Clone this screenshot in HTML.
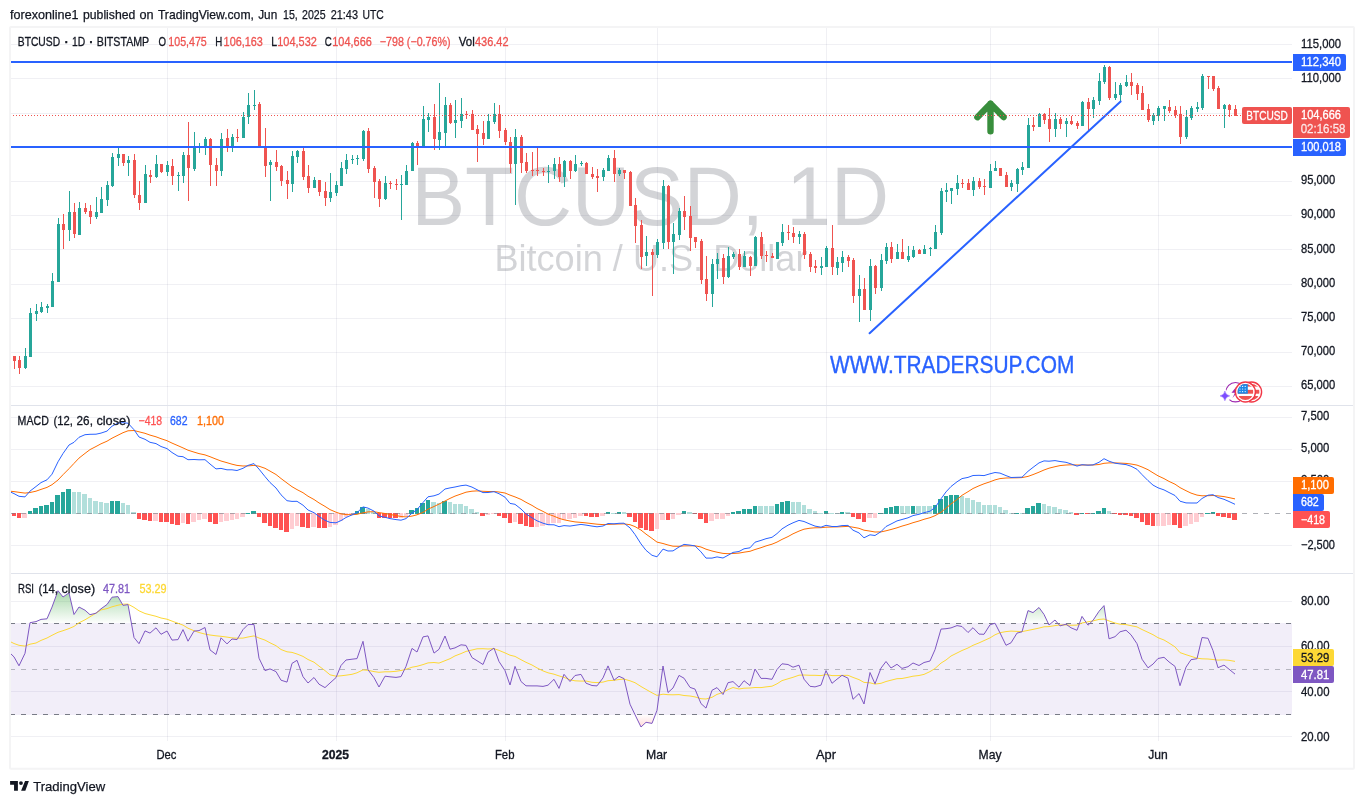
<!DOCTYPE html>
<html lang="en"><head><meta charset="utf-8"><title>BTCUSD 1D chart by forexonline1 - TradingView</title>
<style>
html,body{margin:0;padding:0;background:#fff;}
body{width:1364px;height:804px;overflow:hidden;position:relative;font-family:"Liberation Sans", sans-serif;}
svg{position:absolute;left:0;top:0;display:block}
text{font-family:"Liberation Sans", sans-serif;white-space:pre}
.ce{shape-rendering:crispEdges}
</style></head><body>
<svg width="1364" height="804" viewBox="0 0 1364 804">
<defs>
<clipPath id="plot"><rect x="11" y="28" width="1281" height="713"/></clipPath>
<clipPath id="pmain"><rect x="10" y="28" width="1282" height="377"/></clipPath>
<clipPath id="pmacd"><rect x="10" y="406" width="1282" height="167"/></clipPath>
<clipPath id="prsi"><rect x="10" y="574" width="1282" height="167"/></clipPath>
<linearGradient id="gup" gradientUnits="userSpaceOnUse" x1="0" y1="556.1" x2="0" y2="623.9"><stop offset="0" stop-color="#4caf50" stop-opacity="1"/><stop offset="1" stop-color="#4caf50" stop-opacity="0"/></linearGradient>
<linearGradient id="gdn" gradientUnits="userSpaceOnUse" x1="0" y1="714.5" x2="0" y2="771"><stop offset="0" stop-color="#ff5252" stop-opacity="0"/><stop offset="1" stop-color="#ff5252" stop-opacity="1"/></linearGradient>
<clipPath id="above70"><rect x="11" y="574" width="1281" height="49.5"/></clipPath>
<clipPath id="below30"><rect x="11" y="714.5" width="1281" height="27"/></clipPath>
<clipPath id="flag"><circle cx="0" cy="0" r="8"/></clipPath>
</defs>

<text y="18.9" font-size="12.4" fill="#131722" stroke="#131722" stroke-width="0.25"><tspan x="10.0" textLength="68.6" lengthAdjust="spacingAndGlyphs">forexonline1</tspan> <tspan x="83.0" textLength="52.3" lengthAdjust="spacingAndGlyphs">published</tspan> <tspan x="139.5" textLength="14.1" lengthAdjust="spacingAndGlyphs">on</tspan> <tspan x="157.9" textLength="96" lengthAdjust="spacingAndGlyphs">TradingView.com,</tspan> <tspan x="258.2" textLength="19" lengthAdjust="spacingAndGlyphs">Jun</tspan> <tspan x="283" textLength="14.8" lengthAdjust="spacingAndGlyphs">15,</tspan> <tspan x="302.1" textLength="23.5" lengthAdjust="spacingAndGlyphs">2025</tspan> <tspan x="330.7" textLength="27.3" lengthAdjust="spacingAndGlyphs">21:43</tspan> <tspan x="362.4" textLength="21.3" lengthAdjust="spacingAndGlyphs">UTC</tspan></text>
<g class="ce">
<rect x="167" y="28" width="1" height="713" fill="rgba(50,55,110,0.075)"/>
<rect x="336" y="28" width="1" height="713" fill="rgba(50,55,110,0.075)"/>
<rect x="505" y="28" width="1" height="713" fill="rgba(50,55,110,0.075)"/>
<rect x="657" y="28" width="1" height="713" fill="rgba(50,55,110,0.075)"/>
<rect x="826" y="28" width="1" height="713" fill="rgba(50,55,110,0.075)"/>
<rect x="990" y="28" width="1" height="713" fill="rgba(50,55,110,0.075)"/>
<rect x="1158" y="28" width="1" height="713" fill="rgba(50,55,110,0.075)"/>
<rect x="11" y="44" width="1281" height="1" fill="rgba(50,55,110,0.075)"/>
<rect x="11" y="78" width="1281" height="1" fill="rgba(50,55,110,0.075)"/>
<rect x="11" y="113" width="1281" height="1" fill="rgba(50,55,110,0.075)"/>
<rect x="11" y="147" width="1281" height="1" fill="rgba(50,55,110,0.075)"/>
<rect x="11" y="181" width="1281" height="1" fill="rgba(50,55,110,0.075)"/>
<rect x="11" y="215" width="1281" height="1" fill="rgba(50,55,110,0.075)"/>
<rect x="11" y="249" width="1281" height="1" fill="rgba(50,55,110,0.075)"/>
<rect x="11" y="284" width="1281" height="1" fill="rgba(50,55,110,0.075)"/>
<rect x="11" y="318" width="1281" height="1" fill="rgba(50,55,110,0.075)"/>
<rect x="11" y="352" width="1281" height="1" fill="rgba(50,55,110,0.075)"/>
<rect x="11" y="386" width="1281" height="1" fill="rgba(50,55,110,0.075)"/>
<rect x="11" y="417" width="1281" height="1" fill="rgba(50,55,110,0.075)"/>
<rect x="11" y="449" width="1281" height="1" fill="rgba(50,55,110,0.075)"/>
<rect x="11" y="481" width="1281" height="1" fill="rgba(50,55,110,0.075)"/>
<rect x="11" y="545" width="1281" height="1" fill="rgba(50,55,110,0.075)"/>
<rect x="11" y="601" width="1281" height="1" fill="rgba(50,55,110,0.075)"/>
<rect x="11" y="646" width="1281" height="1" fill="rgba(50,55,110,0.075)"/>
<rect x="11" y="691" width="1281" height="1" fill="rgba(50,55,110,0.075)"/>
<rect x="11" y="736" width="1281" height="1" fill="rgba(50,55,110,0.075)"/>
</g>
<text x="411.5" y="224.9" font-size="83.7" fill="rgba(80,83,94,0.25)" textLength="477.4" lengthAdjust="spacingAndGlyphs">BTCUSD, 1D</text>
<text x="494.4" y="270.8" font-size="36.8" fill="rgba(80,83,94,0.25)" textLength="313.1" lengthAdjust="spacingAndGlyphs">Bitcoin / U.S. Dollar</text>
<rect class="ce" x="11" y="623" width="1281" height="92" fill="rgba(126,87,194,0.1)"/>
<g class="ce" clip-path="url(#pmain)">
<rect x="14" y="356" width="1" height="13" fill="#ef5350"/><rect x="13" y="356" width="3" height="5" fill="#ef5350"/>
<rect x="19" y="356" width="1" height="18" fill="#ef5350"/><rect x="18" y="360" width="3" height="8" fill="#ef5350"/>
<rect x="25" y="348" width="1" height="21" fill="#26a69a"/><rect x="24" y="356" width="3" height="12" fill="#26a69a"/>
<rect x="30" y="308" width="1" height="49" fill="#26a69a"/><rect x="29" y="313" width="3" height="44" fill="#26a69a"/>
<rect x="36" y="304" width="1" height="17" fill="#26a69a"/><rect x="35" y="311" width="3" height="3" fill="#26a69a"/>
<rect x="41" y="302" width="1" height="11" fill="#26a69a"/><rect x="40" y="307" width="3" height="5" fill="#26a69a"/>
<rect x="47" y="304" width="1" height="9" fill="#26a69a"/><rect x="46" y="306" width="3" height="2" fill="#26a69a"/>
<rect x="52" y="273" width="1" height="34" fill="#26a69a"/><rect x="51" y="281" width="3" height="26" fill="#26a69a"/>
<rect x="58" y="218" width="1" height="64" fill="#26a69a"/><rect x="57" y="224" width="3" height="58" fill="#26a69a"/>
<rect x="63" y="214" width="1" height="35" fill="#ef5350"/><rect x="62" y="224" width="3" height="6" fill="#ef5350"/>
<rect x="69" y="191" width="1" height="50" fill="#26a69a"/><rect x="68" y="212" width="3" height="18" fill="#26a69a"/>
<rect x="74" y="203" width="1" height="35" fill="#ef5350"/><rect x="73" y="212" width="3" height="22" fill="#ef5350"/>
<rect x="79" y="202" width="1" height="33" fill="#26a69a"/><rect x="78" y="208" width="3" height="27" fill="#26a69a"/>
<rect x="85" y="203" width="1" height="11" fill="#ef5350"/><rect x="84" y="208" width="3" height="4" fill="#ef5350"/>
<rect x="90" y="205" width="1" height="19" fill="#ef5350"/><rect x="89" y="211" width="3" height="6" fill="#ef5350"/>
<rect x="96" y="197" width="1" height="22" fill="#26a69a"/><rect x="95" y="212" width="3" height="5" fill="#26a69a"/>
<rect x="101" y="187" width="1" height="26" fill="#26a69a"/><rect x="100" y="199" width="3" height="14" fill="#26a69a"/>
<rect x="107" y="181" width="1" height="25" fill="#26a69a"/><rect x="106" y="185" width="3" height="15" fill="#26a69a"/>
<rect x="112" y="153" width="1" height="34" fill="#26a69a"/><rect x="111" y="157" width="3" height="29" fill="#26a69a"/>
<rect x="118" y="148" width="1" height="18" fill="#26a69a"/><rect x="117" y="154" width="3" height="4" fill="#26a69a"/>
<rect x="123" y="154" width="1" height="12" fill="#ef5350"/><rect x="122" y="154" width="3" height="9" fill="#ef5350"/>
<rect x="128" y="156" width="1" height="20" fill="#26a69a"/><rect x="127" y="160" width="3" height="3" fill="#26a69a"/>
<rect x="134" y="154" width="1" height="44" fill="#ef5350"/><rect x="133" y="160" width="3" height="35" fill="#ef5350"/>
<rect x="139" y="181" width="1" height="29" fill="#ef5350"/><rect x="138" y="195" width="3" height="8" fill="#ef5350"/>
<rect x="145" y="165" width="1" height="38" fill="#26a69a"/><rect x="144" y="174" width="3" height="29" fill="#26a69a"/>
<rect x="150" y="170" width="1" height="13" fill="#ef5350"/><rect x="149" y="175" width="3" height="2" fill="#ef5350"/>
<rect x="156" y="155" width="1" height="23" fill="#26a69a"/><rect x="155" y="164" width="3" height="13" fill="#26a69a"/>
<rect x="161" y="164" width="1" height="9" fill="#ef5350"/><rect x="160" y="164" width="3" height="8" fill="#ef5350"/>
<rect x="167" y="161" width="1" height="15" fill="#26a69a"/><rect x="166" y="165" width="3" height="7" fill="#26a69a"/>
<rect x="172" y="159" width="1" height="26" fill="#ef5350"/><rect x="171" y="166" width="3" height="10" fill="#ef5350"/>
<rect x="178" y="172" width="1" height="19" fill="#26a69a"/><rect x="177" y="175" width="3" height="1" fill="#26a69a"/>
<rect x="183" y="152" width="1" height="31" fill="#26a69a"/><rect x="182" y="155" width="3" height="21" fill="#26a69a"/>
<rect x="188" y="122" width="1" height="79" fill="#ef5350"/><rect x="187" y="155" width="3" height="13" fill="#ef5350"/>
<rect x="194" y="132" width="1" height="39" fill="#26a69a"/><rect x="193" y="147" width="3" height="22" fill="#26a69a"/>
<rect x="199" y="143" width="1" height="10" fill="#26a69a"/><rect x="198" y="146" width="3" height="2" fill="#26a69a"/>
<rect x="205" y="137" width="1" height="18" fill="#26a69a"/><rect x="204" y="139" width="3" height="9" fill="#26a69a"/>
<rect x="210" y="138" width="1" height="48" fill="#ef5350"/><rect x="209" y="139" width="3" height="26" fill="#ef5350"/>
<rect x="216" y="158" width="1" height="28" fill="#ef5350"/><rect x="215" y="165" width="3" height="6" fill="#ef5350"/>
<rect x="221" y="133" width="1" height="43" fill="#26a69a"/><rect x="220" y="139" width="3" height="32" fill="#26a69a"/>
<rect x="227" y="129" width="1" height="23" fill="#ef5350"/><rect x="226" y="138" width="3" height="9" fill="#ef5350"/>
<rect x="232" y="134" width="1" height="18" fill="#26a69a"/><rect x="231" y="137" width="3" height="11" fill="#26a69a"/>
<rect x="237" y="129" width="1" height="13" fill="#ef5350"/><rect x="236" y="137" width="3" height="1" fill="#ef5350"/>
<rect x="243" y="112" width="1" height="26" fill="#26a69a"/><rect x="242" y="117" width="3" height="21" fill="#26a69a"/>
<rect x="248" y="93" width="1" height="31" fill="#26a69a"/><rect x="247" y="105" width="3" height="12" fill="#26a69a"/>
<rect x="254" y="90" width="1" height="20" fill="#26a69a"/><rect x="253" y="105" width="3" height="1" fill="#26a69a"/>
<rect x="259" y="102" width="1" height="45" fill="#ef5350"/><rect x="258" y="104" width="3" height="43" fill="#ef5350"/>
<rect x="265" y="128" width="1" height="49" fill="#ef5350"/><rect x="264" y="147" width="3" height="19" fill="#ef5350"/>
<rect x="270" y="160" width="1" height="41" fill="#26a69a"/><rect x="269" y="162" width="3" height="3" fill="#26a69a"/>
<rect x="276" y="150" width="1" height="21" fill="#ef5350"/><rect x="275" y="162" width="3" height="5" fill="#ef5350"/>
<rect x="281" y="165" width="1" height="21" fill="#ef5350"/><rect x="280" y="166" width="3" height="15" fill="#ef5350"/>
<rect x="287" y="171" width="1" height="28" fill="#ef5350"/><rect x="286" y="180" width="3" height="4" fill="#ef5350"/>
<rect x="292" y="151" width="1" height="41" fill="#26a69a"/><rect x="291" y="156" width="3" height="28" fill="#26a69a"/>
<rect x="297" y="150" width="1" height="13" fill="#26a69a"/><rect x="296" y="151" width="3" height="6" fill="#26a69a"/>
<rect x="303" y="148" width="1" height="32" fill="#ef5350"/><rect x="302" y="151" width="3" height="26" fill="#ef5350"/>
<rect x="308" y="165" width="1" height="28" fill="#ef5350"/><rect x="307" y="176" width="3" height="12" fill="#ef5350"/>
<rect x="314" y="177" width="1" height="11" fill="#26a69a"/><rect x="313" y="180" width="3" height="8" fill="#26a69a"/>
<rect x="319" y="180" width="1" height="16" fill="#ef5350"/><rect x="318" y="180" width="3" height="12" fill="#ef5350"/>
<rect x="325" y="182" width="1" height="24" fill="#ef5350"/><rect x="324" y="191" width="3" height="7" fill="#ef5350"/>
<rect x="330" y="173" width="1" height="29" fill="#26a69a"/><rect x="329" y="192" width="3" height="6" fill="#26a69a"/>
<rect x="336" y="181" width="1" height="15" fill="#26a69a"/><rect x="335" y="185" width="3" height="8" fill="#26a69a"/>
<rect x="341" y="162" width="1" height="24" fill="#26a69a"/><rect x="340" y="168" width="3" height="18" fill="#26a69a"/>
<rect x="346" y="154" width="1" height="20" fill="#26a69a"/><rect x="345" y="160" width="3" height="9" fill="#26a69a"/>
<rect x="352" y="155" width="1" height="9" fill="#26a69a"/><rect x="351" y="159" width="3" height="1" fill="#26a69a"/>
<rect x="357" y="155" width="1" height="10" fill="#26a69a"/><rect x="356" y="158" width="3" height="1" fill="#26a69a"/>
<rect x="363" y="130" width="1" height="31" fill="#26a69a"/><rect x="362" y="131" width="3" height="28" fill="#26a69a"/>
<rect x="368" y="128" width="1" height="45" fill="#ef5350"/><rect x="367" y="131" width="3" height="38" fill="#ef5350"/>
<rect x="374" y="166" width="1" height="32" fill="#ef5350"/><rect x="373" y="168" width="3" height="14" fill="#ef5350"/>
<rect x="379" y="179" width="1" height="28" fill="#ef5350"/><rect x="378" y="181" width="3" height="18" fill="#ef5350"/>
<rect x="385" y="176" width="1" height="24" fill="#26a69a"/><rect x="384" y="183" width="3" height="16" fill="#26a69a"/>
<rect x="390" y="181" width="1" height="8" fill="#ef5350"/><rect x="389" y="183" width="3" height="1" fill="#ef5350"/>
<rect x="396" y="179" width="1" height="11" fill="#ef5350"/><rect x="395" y="184" width="3" height="1" fill="#ef5350"/>
<rect x="401" y="175" width="1" height="45" fill="#26a69a"/><rect x="400" y="184" width="3" height="1" fill="#26a69a"/>
<rect x="406" y="165" width="1" height="20" fill="#26a69a"/><rect x="405" y="171" width="3" height="14" fill="#26a69a"/>
<rect x="412" y="142" width="1" height="29" fill="#26a69a"/><rect x="411" y="143" width="3" height="28" fill="#26a69a"/>
<rect x="417" y="141" width="1" height="24" fill="#ef5350"/><rect x="416" y="143" width="3" height="5" fill="#ef5350"/>
<rect x="423" y="106" width="1" height="42" fill="#26a69a"/><rect x="422" y="119" width="3" height="29" fill="#26a69a"/>
<rect x="428" y="113" width="1" height="19" fill="#26a69a"/><rect x="427" y="117" width="3" height="3" fill="#26a69a"/>
<rect x="434" y="104" width="1" height="46" fill="#ef5350"/><rect x="433" y="117" width="3" height="22" fill="#ef5350"/>
<rect x="439" y="83" width="1" height="67" fill="#26a69a"/><rect x="438" y="132" width="3" height="8" fill="#26a69a"/>
<rect x="445" y="97" width="1" height="49" fill="#26a69a"/><rect x="444" y="105" width="3" height="28" fill="#26a69a"/>
<rect x="450" y="103" width="1" height="21" fill="#ef5350"/><rect x="449" y="105" width="3" height="18" fill="#ef5350"/>
<rect x="455" y="100" width="1" height="38" fill="#26a69a"/><rect x="454" y="120" width="3" height="3" fill="#26a69a"/>
<rect x="461" y="98" width="1" height="30" fill="#26a69a"/><rect x="460" y="114" width="3" height="7" fill="#26a69a"/>
<rect x="466" y="111" width="1" height="8" fill="#ef5350"/><rect x="465" y="114" width="3" height="1" fill="#ef5350"/>
<rect x="472" y="110" width="1" height="20" fill="#ef5350"/><rect x="471" y="114" width="3" height="16" fill="#ef5350"/>
<rect x="477" y="125" width="1" height="37" fill="#ef5350"/><rect x="476" y="129" width="3" height="5" fill="#ef5350"/>
<rect x="483" y="121" width="1" height="24" fill="#ef5350"/><rect x="482" y="133" width="3" height="6" fill="#ef5350"/>
<rect x="488" y="114" width="1" height="25" fill="#26a69a"/><rect x="487" y="121" width="3" height="18" fill="#26a69a"/>
<rect x="494" y="103" width="1" height="21" fill="#26a69a"/><rect x="493" y="114" width="3" height="8" fill="#26a69a"/>
<rect x="499" y="105" width="1" height="33" fill="#ef5350"/><rect x="498" y="114" width="3" height="17" fill="#ef5350"/>
<rect x="505" y="128" width="1" height="17" fill="#ef5350"/><rect x="504" y="130" width="3" height="12" fill="#ef5350"/>
<rect x="510" y="137" width="1" height="36" fill="#ef5350"/><rect x="509" y="142" width="3" height="22" fill="#ef5350"/>
<rect x="515" y="129" width="1" height="76" fill="#26a69a"/><rect x="514" y="137" width="3" height="27" fill="#26a69a"/>
<rect x="521" y="135" width="1" height="38" fill="#ef5350"/><rect x="520" y="137" width="3" height="26" fill="#ef5350"/>
<rect x="526" y="153" width="1" height="20" fill="#ef5350"/><rect x="525" y="162" width="3" height="9" fill="#ef5350"/>
<rect x="532" y="152" width="1" height="24" fill="#ef5350"/><rect x="531" y="170" width="3" height="1" fill="#ef5350"/>
<rect x="537" y="146" width="1" height="30" fill="#ef5350"/><rect x="536" y="170" width="3" height="1" fill="#ef5350"/>
<rect x="543" y="168" width="1" height="8" fill="#ef5350"/><rect x="542" y="171" width="3" height="1" fill="#ef5350"/>
<rect x="548" y="165" width="1" height="18" fill="#26a69a"/><rect x="547" y="171" width="3" height="1" fill="#26a69a"/>
<rect x="554" y="158" width="1" height="21" fill="#26a69a"/><rect x="553" y="164" width="3" height="7" fill="#26a69a"/>
<rect x="559" y="157" width="1" height="25" fill="#ef5350"/><rect x="558" y="164" width="3" height="13" fill="#ef5350"/>
<rect x="564" y="160" width="1" height="27" fill="#26a69a"/><rect x="563" y="161" width="3" height="16" fill="#26a69a"/>
<rect x="570" y="160" width="1" height="19" fill="#ef5350"/><rect x="569" y="161" width="3" height="10" fill="#ef5350"/>
<rect x="575" y="155" width="1" height="17" fill="#26a69a"/><rect x="574" y="164" width="3" height="7" fill="#26a69a"/>
<rect x="581" y="161" width="1" height="5" fill="#26a69a"/><rect x="580" y="163" width="3" height="1" fill="#26a69a"/>
<rect x="586" y="162" width="1" height="12" fill="#ef5350"/><rect x="585" y="163" width="3" height="11" fill="#ef5350"/>
<rect x="592" y="167" width="1" height="12" fill="#ef5350"/><rect x="591" y="174" width="3" height="3" fill="#ef5350"/>
<rect x="597" y="169" width="1" height="23" fill="#ef5350"/><rect x="596" y="176" width="3" height="2" fill="#ef5350"/>
<rect x="603" y="168" width="1" height="13" fill="#26a69a"/><rect x="602" y="170" width="3" height="7" fill="#26a69a"/>
<rect x="608" y="155" width="1" height="16" fill="#26a69a"/><rect x="607" y="158" width="3" height="13" fill="#26a69a"/>
<rect x="614" y="150" width="1" height="32" fill="#ef5350"/><rect x="613" y="158" width="3" height="16" fill="#ef5350"/>
<rect x="619" y="168" width="1" height="8" fill="#26a69a"/><rect x="618" y="170" width="3" height="4" fill="#26a69a"/>
<rect x="624" y="170" width="1" height="9" fill="#ef5350"/><rect x="623" y="170" width="3" height="3" fill="#ef5350"/>
<rect x="630" y="171" width="1" height="35" fill="#ef5350"/><rect x="629" y="172" width="3" height="34" fill="#ef5350"/>
<rect x="635" y="198" width="1" height="45" fill="#ef5350"/><rect x="634" y="205" width="3" height="21" fill="#ef5350"/>
<rect x="641" y="220" width="1" height="49" fill="#ef5350"/><rect x="640" y="225" width="3" height="32" fill="#ef5350"/>
<rect x="646" y="236" width="1" height="30" fill="#26a69a"/><rect x="645" y="252" width="3" height="4" fill="#26a69a"/>
<rect x="652" y="249" width="1" height="47" fill="#ef5350"/><rect x="651" y="252" width="3" height="3" fill="#ef5350"/>
<rect x="657" y="239" width="1" height="19" fill="#26a69a"/><rect x="656" y="242" width="3" height="13" fill="#26a69a"/>
<rect x="663" y="180" width="1" height="69" fill="#26a69a"/><rect x="662" y="186" width="3" height="57" fill="#26a69a"/>
<rect x="668" y="185" width="1" height="64" fill="#ef5350"/><rect x="667" y="186" width="3" height="56" fill="#ef5350"/>
<rect x="673" y="223" width="1" height="51" fill="#26a69a"/><rect x="672" y="234" width="3" height="8" fill="#26a69a"/>
<rect x="679" y="208" width="1" height="32" fill="#26a69a"/><rect x="678" y="211" width="3" height="24" fill="#26a69a"/>
<rect x="684" y="196" width="1" height="34" fill="#ef5350"/><rect x="683" y="211" width="3" height="6" fill="#ef5350"/>
<rect x="690" y="206" width="1" height="45" fill="#ef5350"/><rect x="689" y="216" width="3" height="22" fill="#ef5350"/>
<rect x="695" y="237" width="1" height="11" fill="#ef5350"/><rect x="694" y="237" width="3" height="5" fill="#ef5350"/>
<rect x="701" y="239" width="1" height="45" fill="#ef5350"/><rect x="700" y="241" width="3" height="39" fill="#ef5350"/>
<rect x="706" y="256" width="1" height="45" fill="#ef5350"/><rect x="705" y="279" width="3" height="15" fill="#ef5350"/>
<rect x="712" y="259" width="1" height="48" fill="#26a69a"/><rect x="711" y="264" width="3" height="30" fill="#26a69a"/>
<rect x="717" y="253" width="1" height="26" fill="#26a69a"/><rect x="716" y="259" width="3" height="5" fill="#26a69a"/>
<rect x="723" y="254" width="1" height="30" fill="#ef5350"/><rect x="722" y="258" width="3" height="19" fill="#ef5350"/>
<rect x="728" y="247" width="1" height="31" fill="#26a69a"/><rect x="727" y="256" width="3" height="21" fill="#26a69a"/>
<rect x="733" y="252" width="1" height="7" fill="#26a69a"/><rect x="732" y="254" width="3" height="3" fill="#26a69a"/>
<rect x="739" y="249" width="1" height="21" fill="#ef5350"/><rect x="738" y="254" width="3" height="13" fill="#ef5350"/>
<rect x="744" y="251" width="1" height="16" fill="#26a69a"/><rect x="743" y="256" width="3" height="11" fill="#26a69a"/>
<rect x="750" y="256" width="1" height="20" fill="#ef5350"/><rect x="749" y="257" width="3" height="9" fill="#ef5350"/>
<rect x="755" y="236" width="1" height="30" fill="#26a69a"/><rect x="754" y="237" width="3" height="29" fill="#26a69a"/>
<rect x="761" y="232" width="1" height="27" fill="#ef5350"/><rect x="760" y="237" width="3" height="19" fill="#ef5350"/>
<rect x="766" y="251" width="1" height="11" fill="#ef5350"/><rect x="765" y="255" width="3" height="1" fill="#ef5350"/>
<rect x="772" y="253" width="1" height="5" fill="#ef5350"/><rect x="771" y="256" width="3" height="2" fill="#ef5350"/>
<rect x="777" y="242" width="1" height="17" fill="#26a69a"/><rect x="776" y="242" width="3" height="17" fill="#26a69a"/>
<rect x="782" y="224" width="1" height="22" fill="#26a69a"/><rect x="781" y="232" width="3" height="11" fill="#26a69a"/>
<rect x="788" y="225" width="1" height="15" fill="#ef5350"/><rect x="787" y="232" width="3" height="1" fill="#ef5350"/>
<rect x="793" y="227" width="1" height="16" fill="#ef5350"/><rect x="792" y="233" width="3" height="4" fill="#ef5350"/>
<rect x="799" y="231" width="1" height="13" fill="#26a69a"/><rect x="798" y="234" width="3" height="3" fill="#26a69a"/>
<rect x="804" y="232" width="1" height="27" fill="#ef5350"/><rect x="803" y="234" width="3" height="21" fill="#ef5350"/>
<rect x="810" y="252" width="1" height="20" fill="#ef5350"/><rect x="809" y="254" width="3" height="13" fill="#ef5350"/>
<rect x="815" y="260" width="1" height="13" fill="#ef5350"/><rect x="814" y="266" width="3" height="2" fill="#ef5350"/>
<rect x="821" y="257" width="1" height="18" fill="#26a69a"/><rect x="820" y="266" width="3" height="2" fill="#26a69a"/>
<rect x="826" y="246" width="1" height="21" fill="#26a69a"/><rect x="825" y="248" width="3" height="19" fill="#26a69a"/>
<rect x="832" y="225" width="1" height="50" fill="#ef5350"/><rect x="831" y="248" width="3" height="19" fill="#ef5350"/>
<rect x="837" y="257" width="1" height="18" fill="#26a69a"/><rect x="836" y="262" width="3" height="6" fill="#26a69a"/>
<rect x="842" y="251" width="1" height="21" fill="#26a69a"/><rect x="841" y="257" width="3" height="6" fill="#26a69a"/>
<rect x="848" y="255" width="1" height="12" fill="#ef5350"/><rect x="847" y="257" width="3" height="4" fill="#ef5350"/>
<rect x="853" y="258" width="1" height="45" fill="#ef5350"/><rect x="852" y="260" width="3" height="36" fill="#ef5350"/>
<rect x="859" y="275" width="1" height="47" fill="#26a69a"/><rect x="858" y="289" width="3" height="7" fill="#26a69a"/>
<rect x="864" y="278" width="1" height="32" fill="#ef5350"/><rect x="863" y="289" width="3" height="21" fill="#ef5350"/>
<rect x="870" y="259" width="1" height="62" fill="#26a69a"/><rect x="869" y="266" width="3" height="44" fill="#26a69a"/>
<rect x="875" y="265" width="1" height="29" fill="#ef5350"/><rect x="874" y="266" width="3" height="22" fill="#ef5350"/>
<rect x="881" y="254" width="1" height="37" fill="#26a69a"/><rect x="880" y="260" width="3" height="28" fill="#26a69a"/>
<rect x="886" y="243" width="1" height="21" fill="#26a69a"/><rect x="885" y="247" width="3" height="14" fill="#26a69a"/>
<rect x="891" y="242" width="1" height="21" fill="#ef5350"/><rect x="890" y="247" width="3" height="12" fill="#ef5350"/>
<rect x="897" y="244" width="1" height="15" fill="#26a69a"/><rect x="896" y="252" width="3" height="7" fill="#26a69a"/>
<rect x="902" y="239" width="1" height="20" fill="#ef5350"/><rect x="901" y="252" width="3" height="7" fill="#ef5350"/>
<rect x="908" y="246" width="1" height="16" fill="#26a69a"/><rect x="907" y="256" width="3" height="4" fill="#26a69a"/>
<rect x="913" y="246" width="1" height="12" fill="#26a69a"/><rect x="912" y="250" width="3" height="7" fill="#26a69a"/>
<rect x="919" y="249" width="1" height="5" fill="#ef5350"/><rect x="918" y="250" width="3" height="4" fill="#ef5350"/>
<rect x="924" y="245" width="1" height="9" fill="#26a69a"/><rect x="923" y="249" width="3" height="5" fill="#26a69a"/>
<rect x="930" y="247" width="1" height="9" fill="#26a69a"/><rect x="929" y="248" width="3" height="1" fill="#26a69a"/>
<rect x="935" y="225" width="1" height="24" fill="#26a69a"/><rect x="934" y="232" width="3" height="17" fill="#26a69a"/>
<rect x="941" y="188" width="1" height="47" fill="#26a69a"/><rect x="940" y="191" width="3" height="42" fill="#26a69a"/>
<rect x="946" y="183" width="1" height="19" fill="#26a69a"/><rect x="945" y="190" width="3" height="2" fill="#26a69a"/>
<rect x="951" y="188" width="1" height="16" fill="#26a69a"/><rect x="950" y="188" width="3" height="3" fill="#26a69a"/>
<rect x="957" y="175" width="1" height="20" fill="#26a69a"/><rect x="956" y="183" width="3" height="6" fill="#26a69a"/>
<rect x="962" y="179" width="1" height="9" fill="#ef5350"/><rect x="961" y="183" width="3" height="1" fill="#ef5350"/>
<rect x="968" y="179" width="1" height="11" fill="#ef5350"/><rect x="967" y="183" width="3" height="7" fill="#ef5350"/>
<rect x="973" y="177" width="1" height="19" fill="#26a69a"/><rect x="972" y="181" width="3" height="9" fill="#26a69a"/>
<rect x="979" y="178" width="1" height="11" fill="#ef5350"/><rect x="978" y="181" width="3" height="6" fill="#ef5350"/>
<rect x="984" y="179" width="1" height="16" fill="#ef5350"/><rect x="983" y="186" width="3" height="1" fill="#ef5350"/>
<rect x="990" y="164" width="1" height="24" fill="#26a69a"/><rect x="989" y="171" width="3" height="17" fill="#26a69a"/>
<rect x="995" y="161" width="1" height="10" fill="#26a69a"/><rect x="994" y="168" width="3" height="3" fill="#26a69a"/>
<rect x="1000" y="168" width="1" height="8" fill="#ef5350"/><rect x="999" y="168" width="3" height="8" fill="#ef5350"/>
<rect x="1006" y="172" width="1" height="15" fill="#ef5350"/><rect x="1005" y="175" width="3" height="12" fill="#ef5350"/>
<rect x="1011" y="180" width="1" height="11" fill="#26a69a"/><rect x="1010" y="183" width="3" height="4" fill="#26a69a"/>
<rect x="1017" y="168" width="1" height="24" fill="#26a69a"/><rect x="1016" y="169" width="3" height="15" fill="#26a69a"/>
<rect x="1022" y="162" width="1" height="13" fill="#26a69a"/><rect x="1021" y="167" width="3" height="3" fill="#26a69a"/>
<rect x="1028" y="118" width="1" height="50" fill="#26a69a"/><rect x="1027" y="125" width="3" height="43" fill="#26a69a"/>
<rect x="1033" y="117" width="1" height="14" fill="#ef5350"/><rect x="1032" y="125" width="3" height="2" fill="#ef5350"/>
<rect x="1039" y="113" width="1" height="14" fill="#26a69a"/><rect x="1038" y="114" width="3" height="13" fill="#26a69a"/>
<rect x="1044" y="113" width="1" height="11" fill="#ef5350"/><rect x="1043" y="114" width="3" height="6" fill="#ef5350"/>
<rect x="1049" y="108" width="1" height="34" fill="#ef5350"/><rect x="1048" y="119" width="3" height="10" fill="#ef5350"/>
<rect x="1055" y="113" width="1" height="24" fill="#26a69a"/><rect x="1054" y="119" width="3" height="10" fill="#26a69a"/>
<rect x="1060" y="117" width="1" height="12" fill="#ef5350"/><rect x="1059" y="119" width="3" height="5" fill="#ef5350"/>
<rect x="1066" y="118" width="1" height="19" fill="#26a69a"/><rect x="1065" y="121" width="3" height="3" fill="#26a69a"/>
<rect x="1071" y="116" width="1" height="9" fill="#ef5350"/><rect x="1070" y="121" width="3" height="3" fill="#ef5350"/>
<rect x="1077" y="121" width="1" height="8" fill="#ef5350"/><rect x="1076" y="123" width="3" height="3" fill="#ef5350"/>
<rect x="1082" y="101" width="1" height="25" fill="#26a69a"/><rect x="1081" y="102" width="3" height="24" fill="#26a69a"/>
<rect x="1088" y="98" width="1" height="34" fill="#ef5350"/><rect x="1087" y="102" width="3" height="7" fill="#ef5350"/>
<rect x="1093" y="97" width="1" height="21" fill="#26a69a"/><rect x="1092" y="100" width="3" height="9" fill="#26a69a"/>
<rect x="1099" y="73" width="1" height="32" fill="#26a69a"/><rect x="1098" y="81" width="3" height="20" fill="#26a69a"/>
<rect x="1104" y="65" width="1" height="19" fill="#26a69a"/><rect x="1103" y="67" width="3" height="15" fill="#26a69a"/>
<rect x="1109" y="66" width="1" height="34" fill="#ef5350"/><rect x="1108" y="67" width="3" height="31" fill="#ef5350"/>
<rect x="1115" y="82" width="1" height="18" fill="#26a69a"/><rect x="1114" y="94" width="3" height="4" fill="#26a69a"/>
<rect x="1120" y="83" width="1" height="18" fill="#26a69a"/><rect x="1119" y="85" width="3" height="10" fill="#26a69a"/>
<rect x="1126" y="75" width="1" height="12" fill="#26a69a"/><rect x="1125" y="82" width="3" height="4" fill="#26a69a"/>
<rect x="1131" y="73" width="1" height="22" fill="#ef5350"/><rect x="1130" y="82" width="3" height="4" fill="#ef5350"/>
<rect x="1137" y="83" width="1" height="17" fill="#ef5350"/><rect x="1136" y="85" width="3" height="9" fill="#ef5350"/>
<rect x="1142" y="86" width="1" height="24" fill="#ef5350"/><rect x="1141" y="93" width="3" height="17" fill="#ef5350"/>
<rect x="1148" y="104" width="1" height="18" fill="#ef5350"/><rect x="1147" y="109" width="3" height="11" fill="#ef5350"/>
<rect x="1153" y="113" width="1" height="12" fill="#26a69a"/><rect x="1152" y="115" width="3" height="6" fill="#26a69a"/>
<rect x="1158" y="106" width="1" height="15" fill="#26a69a"/><rect x="1157" y="108" width="3" height="8" fill="#26a69a"/>
<rect x="1164" y="106" width="1" height="15" fill="#26a69a"/><rect x="1163" y="106" width="3" height="3" fill="#26a69a"/>
<rect x="1169" y="100" width="1" height="13" fill="#ef5350"/><rect x="1168" y="107" width="3" height="4" fill="#ef5350"/>
<rect x="1175" y="106" width="1" height="12" fill="#ef5350"/><rect x="1174" y="110" width="3" height="5" fill="#ef5350"/>
<rect x="1180" y="106" width="1" height="38" fill="#ef5350"/><rect x="1179" y="114" width="3" height="23" fill="#ef5350"/>
<rect x="1186" y="110" width="1" height="29" fill="#26a69a"/><rect x="1185" y="117" width="3" height="20" fill="#26a69a"/>
<rect x="1191" y="106" width="1" height="14" fill="#26a69a"/><rect x="1190" y="108" width="3" height="10" fill="#26a69a"/>
<rect x="1197" y="102" width="1" height="10" fill="#26a69a"/><rect x="1196" y="107" width="3" height="2" fill="#26a69a"/>
<rect x="1202" y="74" width="1" height="36" fill="#26a69a"/><rect x="1201" y="76" width="3" height="32" fill="#26a69a"/>
<rect x="1208" y="76" width="1" height="13" fill="#ef5350"/><rect x="1207" y="76" width="3" height="1" fill="#ef5350"/>
<rect x="1213" y="76" width="1" height="15" fill="#ef5350"/><rect x="1212" y="76" width="3" height="13" fill="#ef5350"/>
<rect x="1218" y="86" width="1" height="23" fill="#ef5350"/><rect x="1217" y="88" width="3" height="21" fill="#ef5350"/>
<rect x="1224" y="104" width="1" height="24" fill="#26a69a"/><rect x="1223" y="105" width="3" height="4" fill="#26a69a"/>
<rect x="1229" y="104" width="1" height="13" fill="#ef5350"/><rect x="1228" y="105" width="3" height="5" fill="#ef5350"/>
<rect x="1235" y="105" width="1" height="11" fill="#ef5350"/><rect x="1234" y="109" width="3" height="7" fill="#ef5350"/>
<rect x="10" y="356" width="1" height="1" fill="#ef5350"/>
</g>
<line x1="869.6" y1="333.2" x2="1120.6" y2="101.5" stroke="#2962ff" stroke-width="2" stroke-linecap="round"/>
<rect class="ce" x="11" y="61" width="1281" height="2" fill="#2962ff"/>
<rect class="ce" x="11" y="146" width="1281" height="2" fill="#2962ff"/>
<path d="M977.4 117.2 L990.5 103.7 L1003.6 117.1 M990.5 103.7 L990.5 131.3" fill="none" stroke="#388e3c" stroke-width="6.4" stroke-linecap="round" stroke-linejoin="round"/>
<line class="ce" x1="13" y1="115.5" x2="1292" y2="115.5" stroke="#ef5350" stroke-width="1" stroke-dasharray="1 2"/>
<text x="830" y="372.8" font-size="23.2" fill="#2962ff" stroke="#2962ff" stroke-width="0.35" textLength="244.3" lengthAdjust="spacingAndGlyphs">WWW.TRADERSUP.COM</text>
<g class="ce" clip-path="url(#pmacd)"><rect x="12" y="513" width="4" height="3" fill="#ff5252"/><rect x="17" y="513" width="4" height="5" fill="#ff5252"/><rect x="22" y="513" width="5" height="5" fill="#ffcdd2"/><rect x="28" y="511" width="4" height="3" fill="#26a69a"/><rect x="33" y="508" width="5" height="6" fill="#26a69a"/><rect x="39" y="506" width="4" height="8" fill="#26a69a"/><rect x="44" y="505" width="5" height="9" fill="#26a69a"/><rect x="50" y="502" width="4" height="12" fill="#26a69a"/><rect x="55" y="495" width="5" height="19" fill="#26a69a"/><rect x="61" y="492" width="4" height="22" fill="#26a69a"/><rect x="66" y="489" width="5" height="25" fill="#26a69a"/><rect x="72" y="492" width="4" height="22" fill="#b2dfdb"/><rect x="77" y="492" width="4" height="22" fill="#b2dfdb"/><rect x="82" y="494" width="5" height="20" fill="#b2dfdb"/><rect x="88" y="498" width="4" height="16" fill="#b2dfdb"/><rect x="93" y="501" width="5" height="13" fill="#b2dfdb"/><rect x="99" y="502" width="4" height="12" fill="#b2dfdb"/><rect x="104" y="503" width="5" height="11" fill="#b2dfdb"/><rect x="110" y="501" width="4" height="13" fill="#26a69a"/><rect x="115" y="501" width="5" height="13" fill="#26a69a"/><rect x="121" y="503" width="4" height="11" fill="#b2dfdb"/><rect x="126" y="505" width="4" height="9" fill="#b2dfdb"/><rect x="131" y="512" width="5" height="2" fill="#b2dfdb"/><rect x="137" y="513" width="4" height="6" fill="#ff5252"/><rect x="142" y="513" width="5" height="7" fill="#ff5252"/><rect x="148" y="513" width="4" height="8" fill="#ff5252"/><rect x="153" y="513" width="5" height="8" fill="#ffcdd2"/><rect x="159" y="513" width="4" height="9" fill="#ff5252"/><rect x="164" y="513" width="5" height="9" fill="#ff5252"/><rect x="170" y="513" width="4" height="11" fill="#ff5252"/><rect x="175" y="513" width="5" height="12" fill="#ff5252"/><rect x="181" y="513" width="4" height="10" fill="#ffcdd2"/><rect x="186" y="513" width="4" height="11" fill="#ff5252"/><rect x="191" y="513" width="5" height="9" fill="#ffcdd2"/><rect x="197" y="513" width="4" height="7" fill="#ffcdd2"/><rect x="202" y="513" width="5" height="6" fill="#ffcdd2"/><rect x="208" y="513" width="4" height="9" fill="#ff5252"/><rect x="213" y="513" width="5" height="11" fill="#ff5252"/><rect x="219" y="513" width="4" height="9" fill="#ffcdd2"/><rect x="224" y="513" width="5" height="8" fill="#ffcdd2"/><rect x="230" y="513" width="4" height="7" fill="#ffcdd2"/><rect x="235" y="513" width="4" height="6" fill="#ffcdd2"/><rect x="240" y="513" width="5" height="4" fill="#ffcdd2"/><rect x="246" y="513" width="4" height="1" fill="#26a69a"/><rect x="251" y="511" width="5" height="3" fill="#26a69a"/><rect x="257" y="513" width="4" height="4" fill="#ff5252"/><rect x="262" y="513" width="5" height="10" fill="#ff5252"/><rect x="268" y="513" width="4" height="13" fill="#ff5252"/><rect x="273" y="513" width="5" height="15" fill="#ff5252"/><rect x="279" y="513" width="4" height="17" fill="#ff5252"/><rect x="284" y="513" width="5" height="19" fill="#ff5252"/><rect x="290" y="513" width="4" height="16" fill="#ffcdd2"/><rect x="295" y="513" width="4" height="13" fill="#ffcdd2"/><rect x="300" y="513" width="5" height="14" fill="#ff5252"/><rect x="306" y="513" width="4" height="15" fill="#ff5252"/><rect x="311" y="513" width="5" height="14" fill="#ffcdd2"/><rect x="317" y="513" width="4" height="15" fill="#ff5252"/><rect x="322" y="513" width="5" height="15" fill="#ff5252"/><rect x="328" y="513" width="4" height="14" fill="#ffcdd2"/><rect x="333" y="513" width="5" height="12" fill="#ffcdd2"/><rect x="339" y="513" width="4" height="8" fill="#ffcdd2"/><rect x="344" y="513" width="4" height="4" fill="#ffcdd2"/><rect x="349" y="513" width="5" height="1" fill="#ffcdd2"/><rect x="355" y="511" width="4" height="3" fill="#26a69a"/><rect x="360" y="507" width="5" height="7" fill="#26a69a"/><rect x="366" y="509" width="4" height="5" fill="#b2dfdb"/><rect x="371" y="512" width="5" height="2" fill="#b2dfdb"/><rect x="377" y="513" width="4" height="5" fill="#ff5252"/><rect x="382" y="513" width="5" height="5" fill="#ff5252"/><rect x="388" y="513" width="4" height="5" fill="#ff5252"/><rect x="393" y="513" width="5" height="5" fill="#ff5252"/><rect x="399" y="513" width="4" height="5" fill="#ffcdd2"/><rect x="404" y="513" width="4" height="3" fill="#ffcdd2"/><rect x="409" y="510" width="5" height="4" fill="#26a69a"/><rect x="415" y="508" width="4" height="6" fill="#26a69a"/><rect x="420" y="503" width="5" height="11" fill="#26a69a"/><rect x="426" y="500" width="4" height="14" fill="#26a69a"/><rect x="431" y="502" width="5" height="12" fill="#b2dfdb"/><rect x="437" y="503" width="4" height="11" fill="#b2dfdb"/><rect x="442" y="501" width="5" height="13" fill="#26a69a"/><rect x="448" y="502" width="4" height="12" fill="#b2dfdb"/><rect x="453" y="504" width="4" height="10" fill="#b2dfdb"/><rect x="458" y="504" width="5" height="10" fill="#b2dfdb"/><rect x="464" y="506" width="4" height="8" fill="#b2dfdb"/><rect x="469" y="509" width="5" height="5" fill="#b2dfdb"/><rect x="475" y="512" width="4" height="2" fill="#b2dfdb"/><rect x="480" y="513" width="5" height="3" fill="#ff5252"/><rect x="486" y="513" width="4" height="2" fill="#ffcdd2"/><rect x="491" y="513" width="5" height="1" fill="#ffcdd2"/><rect x="497" y="513" width="4" height="3" fill="#ff5252"/><rect x="502" y="513" width="5" height="5" fill="#ff5252"/><rect x="508" y="513" width="4" height="10" fill="#ff5252"/><rect x="513" y="513" width="4" height="9" fill="#ffcdd2"/><rect x="518" y="513" width="5" height="11" fill="#ff5252"/><rect x="524" y="513" width="4" height="13" fill="#ff5252"/><rect x="529" y="513" width="5" height="14" fill="#ff5252"/><rect x="535" y="513" width="4" height="14" fill="#ffcdd2"/><rect x="540" y="513" width="5" height="13" fill="#ffcdd2"/><rect x="546" y="513" width="4" height="12" fill="#ffcdd2"/><rect x="551" y="513" width="5" height="10" fill="#ffcdd2"/><rect x="557" y="513" width="4" height="10" fill="#ffcdd2"/><rect x="562" y="513" width="4" height="7" fill="#ffcdd2"/><rect x="567" y="513" width="5" height="6" fill="#ffcdd2"/><rect x="573" y="513" width="4" height="5" fill="#ffcdd2"/><rect x="578" y="513" width="5" height="3" fill="#ffcdd2"/><rect x="584" y="513" width="4" height="3" fill="#ff5252"/><rect x="589" y="513" width="5" height="4" fill="#ff5252"/><rect x="595" y="513" width="4" height="4" fill="#ff5252"/><rect x="600" y="513" width="5" height="3" fill="#ffcdd2"/><rect x="606" y="512" width="4" height="2" fill="#26a69a"/><rect x="611" y="513" width="5" height="1" fill="#b2dfdb"/><rect x="617" y="512" width="4" height="2" fill="#26a69a"/><rect x="622" y="512" width="4" height="2" fill="#b2dfdb"/><rect x="627" y="513" width="5" height="4" fill="#ff5252"/><rect x="633" y="513" width="4" height="9" fill="#ff5252"/><rect x="638" y="513" width="5" height="15" fill="#ff5252"/><rect x="644" y="513" width="4" height="17" fill="#ff5252"/><rect x="649" y="513" width="5" height="18" fill="#ff5252"/><rect x="655" y="513" width="4" height="16" fill="#ffcdd2"/><rect x="660" y="513" width="5" height="7" fill="#ffcdd2"/><rect x="666" y="513" width="4" height="7" fill="#ff5252"/><rect x="671" y="513" width="4" height="6" fill="#ffcdd2"/><rect x="676" y="513" width="5" height="2" fill="#ffcdd2"/><rect x="682" y="511" width="4" height="3" fill="#26a69a"/><rect x="687" y="512" width="5" height="2" fill="#b2dfdb"/><rect x="693" y="513" width="4" height="1" fill="#ff5252"/><rect x="698" y="513" width="5" height="6" fill="#ff5252"/><rect x="704" y="513" width="4" height="10" fill="#ff5252"/><rect x="709" y="513" width="5" height="8" fill="#ffcdd2"/><rect x="715" y="513" width="4" height="6" fill="#ffcdd2"/><rect x="720" y="513" width="5" height="6" fill="#ffcdd2"/><rect x="726" y="513" width="4" height="3" fill="#ffcdd2"/><rect x="731" y="512" width="4" height="2" fill="#26a69a"/><rect x="736" y="511" width="5" height="3" fill="#26a69a"/><rect x="742" y="509" width="4" height="5" fill="#26a69a"/><rect x="747" y="509" width="5" height="5" fill="#26a69a"/><rect x="753" y="506" width="4" height="8" fill="#26a69a"/><rect x="758" y="506" width="5" height="8" fill="#b2dfdb"/><rect x="764" y="506" width="4" height="8" fill="#b2dfdb"/><rect x="769" y="506" width="5" height="8" fill="#b2dfdb"/><rect x="775" y="504" width="4" height="10" fill="#26a69a"/><rect x="780" y="502" width="4" height="12" fill="#26a69a"/><rect x="785" y="501" width="5" height="13" fill="#26a69a"/><rect x="791" y="502" width="4" height="12" fill="#b2dfdb"/><rect x="796" y="502" width="5" height="12" fill="#b2dfdb"/><rect x="802" y="505" width="4" height="9" fill="#b2dfdb"/><rect x="807" y="509" width="5" height="5" fill="#b2dfdb"/><rect x="813" y="511" width="4" height="3" fill="#b2dfdb"/><rect x="818" y="513" width="5" height="1" fill="#b2dfdb"/><rect x="824" y="511" width="4" height="3" fill="#26a69a"/><rect x="829" y="513" width="5" height="1" fill="#b2dfdb"/><rect x="835" y="513" width="4" height="1" fill="#b2dfdb"/><rect x="840" y="512" width="4" height="2" fill="#26a69a"/><rect x="845" y="512" width="5" height="2" fill="#b2dfdb"/><rect x="851" y="513" width="4" height="4" fill="#ff5252"/><rect x="856" y="513" width="5" height="6" fill="#ff5252"/><rect x="862" y="513" width="4" height="9" fill="#ff5252"/><rect x="867" y="513" width="5" height="5" fill="#ffcdd2"/><rect x="873" y="513" width="4" height="5" fill="#ffcdd2"/><rect x="878" y="513" width="5" height="1" fill="#26a69a"/><rect x="884" y="508" width="4" height="6" fill="#26a69a"/><rect x="889" y="507" width="4" height="7" fill="#26a69a"/><rect x="894" y="506" width="5" height="8" fill="#26a69a"/><rect x="900" y="506" width="4" height="8" fill="#b2dfdb"/><rect x="905" y="506" width="5" height="8" fill="#b2dfdb"/><rect x="911" y="506" width="4" height="8" fill="#26a69a"/><rect x="916" y="506" width="5" height="8" fill="#b2dfdb"/><rect x="922" y="506" width="4" height="8" fill="#b2dfdb"/><rect x="927" y="506" width="5" height="8" fill="#b2dfdb"/><rect x="933" y="505" width="4" height="9" fill="#26a69a"/><rect x="938" y="499" width="5" height="15" fill="#26a69a"/><rect x="944" y="496" width="4" height="18" fill="#26a69a"/><rect x="949" y="495" width="4" height="19" fill="#26a69a"/><rect x="954" y="495" width="5" height="19" fill="#26a69a"/><rect x="960" y="496" width="4" height="18" fill="#b2dfdb"/><rect x="965" y="498" width="5" height="16" fill="#b2dfdb"/><rect x="971" y="500" width="4" height="14" fill="#b2dfdb"/><rect x="976" y="502" width="5" height="12" fill="#b2dfdb"/><rect x="982" y="505" width="4" height="9" fill="#b2dfdb"/><rect x="987" y="505" width="5" height="9" fill="#b2dfdb"/><rect x="993" y="505" width="4" height="9" fill="#b2dfdb"/><rect x="998" y="507" width="4" height="7" fill="#b2dfdb"/><rect x="1003" y="510" width="5" height="4" fill="#b2dfdb"/><rect x="1009" y="513" width="4" height="1" fill="#b2dfdb"/><rect x="1014" y="513" width="5" height="1" fill="#26a69a"/><rect x="1020" y="513" width="4" height="1" fill="#b2dfdb"/><rect x="1025" y="508" width="5" height="6" fill="#26a69a"/><rect x="1031" y="506" width="4" height="8" fill="#26a69a"/><rect x="1036" y="503" width="5" height="11" fill="#26a69a"/><rect x="1042" y="504" width="4" height="10" fill="#b2dfdb"/><rect x="1047" y="506" width="4" height="8" fill="#b2dfdb"/><rect x="1052" y="507" width="5" height="7" fill="#b2dfdb"/><rect x="1058" y="509" width="4" height="5" fill="#b2dfdb"/><rect x="1063" y="510" width="5" height="4" fill="#b2dfdb"/><rect x="1069" y="512" width="4" height="2" fill="#b2dfdb"/><rect x="1074" y="513" width="5" height="2" fill="#ff5252"/><rect x="1080" y="513" width="4" height="1" fill="#26a69a"/><rect x="1085" y="513" width="5" height="1" fill="#ff5252"/><rect x="1091" y="513" width="4" height="1" fill="#26a69a"/><rect x="1096" y="511" width="5" height="3" fill="#26a69a"/><rect x="1102" y="508" width="4" height="6" fill="#26a69a"/><rect x="1107" y="511" width="4" height="3" fill="#b2dfdb"/><rect x="1112" y="513" width="5" height="1" fill="#ff5252"/><rect x="1118" y="513" width="4" height="2" fill="#ff5252"/><rect x="1123" y="513" width="5" height="2" fill="#ff5252"/><rect x="1129" y="513" width="4" height="3" fill="#ff5252"/><rect x="1134" y="513" width="5" height="5" fill="#ff5252"/><rect x="1140" y="513" width="4" height="9" fill="#ff5252"/><rect x="1145" y="513" width="5" height="12" fill="#ff5252"/><rect x="1151" y="513" width="4" height="13" fill="#ff5252"/><rect x="1156" y="513" width="4" height="13" fill="#ffcdd2"/><rect x="1161" y="513" width="5" height="13" fill="#ffcdd2"/><rect x="1167" y="513" width="4" height="12" fill="#ffcdd2"/><rect x="1172" y="513" width="5" height="12" fill="#ff5252"/><rect x="1178" y="513" width="4" height="15" fill="#ff5252"/><rect x="1183" y="513" width="5" height="13" fill="#ffcdd2"/><rect x="1189" y="513" width="4" height="11" fill="#ffcdd2"/><rect x="1194" y="513" width="5" height="9" fill="#ffcdd2"/><rect x="1200" y="513" width="4" height="4" fill="#ffcdd2"/><rect x="1205" y="513" width="5" height="1" fill="#26a69a"/><rect x="1211" y="512" width="4" height="2" fill="#26a69a"/><rect x="1216" y="513" width="4" height="3" fill="#ff5252"/><rect x="1221" y="513" width="5" height="4" fill="#ff5252"/><rect x="1227" y="513" width="4" height="5" fill="#ff5252"/><rect x="1232" y="513" width="5" height="7" fill="#ff5252"/></g>
<line class="ce" x1="10" y1="513.5" x2="1292" y2="513.5" stroke="#787b86" stroke-opacity="0.6" stroke-width="1" stroke-dasharray="5 6"/>
<polyline points="9,491.1 14,491.6 19,492.3 25,493.1 30,492.5 36,491.2 41,489.4 47,487.4 52,484.7 58,480.0 63,474.7 69,468.7 74,463.4 79,458.1 85,453.4 90,449.6 96,446.5 101,443.8 107,441.2 112,438.2 118,435.2 123,432.7 128,430.8 134,430.5 139,431.8 145,433.3 150,435.1 156,436.8 161,438.7 167,440.7 172,443.1 178,445.7 183,447.9 188,450.2 194,452.1 199,453.6 205,454.9 210,456.7 216,459.1 221,461.0 227,462.7 232,464.2 237,465.4 243,466.0 248,465.9 254,465.4 259,466.2 265,468.3 270,471.1 276,474.5 281,478.5 287,483.0 292,486.7 297,489.6 303,492.7 308,496.2 314,499.5 319,502.9 325,506.4 330,509.6 336,512.2 341,513.9 346,514.6 352,514.7 357,514.3 363,512.8 368,511.9 374,511.7 379,512.6 385,513.5 390,514.5 396,515.5 401,516.5 406,516.9 412,516.1 417,514.8 423,512.4 428,509.2 434,506.5 439,504.1 445,501.0 450,498.4 455,496.1 461,494.0 466,492.2 472,491.2 477,490.9 483,491.3 488,491.5 494,491.5 499,492.0 505,493.0 510,495.1 515,496.9 521,499.4 526,502.3 532,505.4 537,508.5 543,511.4 548,514.1 554,516.2 559,518.3 564,519.8 570,521.0 575,521.9 581,522.4 586,522.9 592,523.6 597,524.2 603,524.6 608,524.4 614,524.2 619,524.0 624,523.9 630,524.7 635,526.6 641,530.1 646,534.1 652,538.4 657,542.1 663,543.5 668,545.0 673,546.2 679,546.3 684,545.9 690,545.8 695,545.8 701,547.0 706,549.2 712,551.0 717,552.2 723,553.4 728,553.7 733,553.5 739,553.1 744,552.2 750,551.3 755,549.5 761,547.7 766,545.9 772,544.2 777,542.1 782,539.4 788,536.6 793,533.8 799,531.1 804,529.2 810,528.2 815,527.8 821,527.7 826,527.2 832,527.0 837,526.9 842,526.7 848,526.4 853,527.2 859,528.3 864,530.2 870,531.1 875,532.0 881,531.9 886,530.8 891,529.5 897,527.8 902,526.1 908,524.4 913,522.7 919,521.0 924,519.3 930,517.7 935,515.7 941,512.3 946,508.2 951,503.9 957,499.5 962,495.3 968,491.7 973,488.5 979,485.8 984,483.8 990,481.8 995,479.9 1000,478.6 1006,478.0 1011,477.9 1017,477.8 1022,477.6 1028,476.4 1033,474.6 1039,472.2 1044,470.0 1049,468.2 1055,466.7 1060,465.6 1066,465.0 1071,464.8 1077,465.0 1082,465.0 1088,465.0 1093,465.0 1099,464.5 1104,463.3 1109,462.9 1115,462.9 1120,463.1 1126,463.4 1131,464.0 1137,465.1 1142,467.0 1148,469.7 1153,472.8 1158,475.8 1164,478.6 1169,481.4 1175,484.2 1180,487.6 1186,490.7 1191,493.1 1197,495.1 1202,495.8 1208,495.7 1213,495.5 1218,495.9 1224,496.6 1229,497.6 1235,498.9" fill="none" stroke="#ff6d00" stroke-width="1" stroke-linejoin="round" clip-path="url(#pmacd)"/>
<polyline points="9,491.4 14,493.6 19,496.3 25,496.9 30,491.1 36,486.5 41,482.6 47,479.8 52,474.2 58,461.8 63,453.5 69,445.0 74,442.3 79,437.3 85,434.7 90,434.3 96,434.2 101,433.1 107,431.1 112,426.2 118,423.0 123,422.7 128,423.2 134,429.7 139,437.0 145,439.3 150,442.3 156,443.6 161,446.5 167,448.6 172,452.5 178,456.2 183,456.7 188,459.7 194,459.5 199,459.8 205,459.7 210,464.0 216,468.9 221,468.4 227,469.8 232,469.8 237,470.5 243,468.3 248,465.4 254,463.6 259,469.1 265,476.6 270,482.5 276,488.0 281,494.8 287,500.7 292,501.4 297,501.3 303,505.2 308,510.0 314,512.7 319,516.5 325,520.3 330,522.4 336,522.8 341,520.6 346,517.5 352,514.9 357,512.7 363,506.9 368,508.1 374,511.1 379,515.9 385,517.3 390,518.6 396,519.6 401,520.2 406,518.6 412,513.1 417,509.6 423,502.5 428,496.8 434,495.8 439,494.1 445,489.0 450,487.9 455,487.0 461,485.7 466,485.1 472,487.1 477,489.7 483,492.6 488,492.5 494,491.7 499,493.7 505,497.2 510,503.4 515,504.3 521,509.0 526,513.9 532,517.8 537,520.8 543,523.2 548,524.7 554,524.8 559,526.7 564,525.6 570,526.1 575,525.3 581,524.4 586,525.1 592,526.1 597,526.8 603,526.0 608,523.5 614,523.8 619,523.3 624,523.2 630,527.9 635,534.5 641,543.9 646,550.3 652,555.3 657,556.8 663,549.1 668,551.0 673,550.9 679,547.0 684,544.4 690,545.1 695,545.9 701,551.9 706,558.1 712,558.1 717,556.9 723,558.0 728,555.3 733,552.4 739,551.5 744,548.8 750,547.8 755,542.2 761,540.4 766,538.7 772,537.3 777,533.6 782,528.9 788,525.2 793,522.8 799,520.4 804,521.5 810,524.1 815,526.1 821,527.2 826,525.3 832,526.5 837,526.5 842,525.6 848,525.4 853,530.2 859,532.9 864,537.8 870,534.8 875,535.5 881,531.6 886,526.5 891,524.0 897,520.9 902,519.5 908,517.8 913,515.6 919,514.3 924,512.7 930,511.2 935,507.6 941,498.8 946,491.9 951,486.5 957,481.8 962,478.6 968,477.4 973,475.5 979,475.3 984,475.6 990,473.8 995,472.5 1000,473.1 1006,475.6 1011,477.5 1017,477.3 1022,477.2 1028,471.3 1033,467.4 1039,462.9 1044,460.9 1049,461.2 1055,460.6 1060,461.5 1066,462.3 1071,463.9 1077,466.1 1082,464.7 1088,465.2 1093,464.9 1099,462.3 1104,458.7 1109,461.2 1115,463.2 1120,463.9 1126,464.6 1131,466.2 1137,469.3 1142,474.6 1148,480.6 1153,485.1 1158,487.8 1164,489.9 1169,492.5 1175,495.5 1180,501.2 1186,502.9 1191,503.0 1197,503.0 1202,498.5 1208,495.2 1213,494.7 1218,497.5 1224,499.3 1229,501.5 1235,504.3" fill="none" stroke="#2962ff" stroke-width="1" stroke-linejoin="round" clip-path="url(#pmacd)"/>
<line class="ce" x1="10" y1="623.5" x2="1292" y2="623.5" stroke="#787b86" stroke-width="1" stroke-dasharray="5 6"/>
<line class="ce" x1="10" y1="714.5" x2="1292" y2="714.5" stroke="#787b86" stroke-width="1" stroke-dasharray="5 6"/>
<line class="ce" x1="10" y1="669.5" x2="1292" y2="669.5" stroke="#787b86" stroke-opacity="0.5" stroke-width="1" stroke-dasharray="5 6"/>
<polygon points="9.5,623.5 9,652.0 14,656.9 19,665.8 25,653.3 30,622.7 36,621.6 41,619.4 47,618.8 52,607.1 58,590.7 63,597.0 69,592.9 74,614.5 79,607.0 85,610.2 90,614.7 96,613.2 101,608.8 107,604.5 112,597.2 118,596.6 123,605.4 128,604.6 134,637.5 139,643.7 145,630.9 150,633.1 156,627.8 161,634.3 167,631.0 172,640.1 178,639.6 183,629.6 188,641.2 194,631.1 199,630.6 205,627.5 210,649.9 216,654.5 221,637.8 227,643.9 232,639.0 237,639.6 243,629.6 248,624.6 254,624.5 259,658.2 265,670.6 270,668.9 276,671.6 281,680.2 287,682.1 292,663.4 297,660.3 303,676.7 308,683.0 314,677.5 319,684.2 325,687.6 330,683.0 336,677.6 341,665.5 346,660.0 352,659.2 357,658.6 363,641.3 368,669.8 374,677.7 379,687.0 385,676.2 390,676.8 396,677.4 401,676.6 406,666.4 412,648.4 417,652.0 423,636.9 428,635.9 434,653.1 439,649.3 445,636.0 450,649.2 455,647.9 461,644.8 466,645.4 472,657.6 477,660.7 483,664.5 488,652.2 494,648.1 499,661.5 505,670.6 510,685.0 515,666.4 521,681.5 526,685.8 532,685.9 537,685.9 543,686.4 548,685.2 554,679.3 559,688.4 564,674.3 570,681.5 575,675.5 581,674.4 586,683.2 592,685.5 597,685.9 603,677.9 608,665.9 614,680.2 619,676.3 624,678.6 630,704.2 635,714.7 641,727.0 646,722.3 652,723.4 657,710.3 663,666.0 668,692.5 673,688.0 679,675.4 684,678.2 690,687.4 695,689.1 701,703.6 706,708.1 712,690.3 717,687.6 723,694.5 728,682.7 733,681.6 739,687.2 744,680.7 750,685.5 755,669.0 761,678.4 766,678.4 772,679.3 777,669.5 782,663.8 788,664.5 793,667.2 799,665.2 804,679.2 810,686.3 815,686.9 821,685.1 826,670.6 832,683.3 837,679.2 842,675.3 848,678.2 853,699.3 859,693.6 864,704.0 870,672.5 875,683.8 881,668.1 886,661.5 891,668.0 897,664.3 902,668.4 908,666.7 913,663.0 919,665.5 924,662.5 930,661.0 935,649.7 941,629.1 946,628.7 951,627.9 957,625.6 962,626.5 968,632.5 973,627.7 979,634.1 984,634.3 990,624.8 995,623.2 1000,632.9 1006,645.3 1011,642.8 1017,633.1 1022,631.8 1028,610.6 1033,612.6 1039,607.5 1044,614.4 1049,625.0 1055,620.0 1060,625.9 1066,624.2 1071,627.8 1077,630.3 1082,616.4 1088,625.2 1093,620.4 1099,611.3 1104,605.6 1109,638.8 1115,636.7 1120,631.8 1126,630.2 1131,634.8 1137,643.7 1142,659.2 1148,667.8 1153,664.1 1158,658.5 1164,657.3 1169,661.9 1175,666.4 1180,685.7 1186,667.2 1191,659.7 1197,658.7 1202,637.5 1208,638.3 1213,650.6 1218,667.7 1224,665.1 1229,669.2 1235,674.1 1235.5,623.5" fill="url(#gup)" clip-path="url(#above70)"/>
<polygon points="9.5,714.5 9,652.0 14,656.9 19,665.8 25,653.3 30,622.7 36,621.6 41,619.4 47,618.8 52,607.1 58,590.7 63,597.0 69,592.9 74,614.5 79,607.0 85,610.2 90,614.7 96,613.2 101,608.8 107,604.5 112,597.2 118,596.6 123,605.4 128,604.6 134,637.5 139,643.7 145,630.9 150,633.1 156,627.8 161,634.3 167,631.0 172,640.1 178,639.6 183,629.6 188,641.2 194,631.1 199,630.6 205,627.5 210,649.9 216,654.5 221,637.8 227,643.9 232,639.0 237,639.6 243,629.6 248,624.6 254,624.5 259,658.2 265,670.6 270,668.9 276,671.6 281,680.2 287,682.1 292,663.4 297,660.3 303,676.7 308,683.0 314,677.5 319,684.2 325,687.6 330,683.0 336,677.6 341,665.5 346,660.0 352,659.2 357,658.6 363,641.3 368,669.8 374,677.7 379,687.0 385,676.2 390,676.8 396,677.4 401,676.6 406,666.4 412,648.4 417,652.0 423,636.9 428,635.9 434,653.1 439,649.3 445,636.0 450,649.2 455,647.9 461,644.8 466,645.4 472,657.6 477,660.7 483,664.5 488,652.2 494,648.1 499,661.5 505,670.6 510,685.0 515,666.4 521,681.5 526,685.8 532,685.9 537,685.9 543,686.4 548,685.2 554,679.3 559,688.4 564,674.3 570,681.5 575,675.5 581,674.4 586,683.2 592,685.5 597,685.9 603,677.9 608,665.9 614,680.2 619,676.3 624,678.6 630,704.2 635,714.7 641,727.0 646,722.3 652,723.4 657,710.3 663,666.0 668,692.5 673,688.0 679,675.4 684,678.2 690,687.4 695,689.1 701,703.6 706,708.1 712,690.3 717,687.6 723,694.5 728,682.7 733,681.6 739,687.2 744,680.7 750,685.5 755,669.0 761,678.4 766,678.4 772,679.3 777,669.5 782,663.8 788,664.5 793,667.2 799,665.2 804,679.2 810,686.3 815,686.9 821,685.1 826,670.6 832,683.3 837,679.2 842,675.3 848,678.2 853,699.3 859,693.6 864,704.0 870,672.5 875,683.8 881,668.1 886,661.5 891,668.0 897,664.3 902,668.4 908,666.7 913,663.0 919,665.5 924,662.5 930,661.0 935,649.7 941,629.1 946,628.7 951,627.9 957,625.6 962,626.5 968,632.5 973,627.7 979,634.1 984,634.3 990,624.8 995,623.2 1000,632.9 1006,645.3 1011,642.8 1017,633.1 1022,631.8 1028,610.6 1033,612.6 1039,607.5 1044,614.4 1049,625.0 1055,620.0 1060,625.9 1066,624.2 1071,627.8 1077,630.3 1082,616.4 1088,625.2 1093,620.4 1099,611.3 1104,605.6 1109,638.8 1115,636.7 1120,631.8 1126,630.2 1131,634.8 1137,643.7 1142,659.2 1148,667.8 1153,664.1 1158,658.5 1164,657.3 1169,661.9 1175,666.4 1180,685.7 1186,667.2 1191,659.7 1197,658.7 1202,637.5 1208,638.3 1213,650.6 1218,667.7 1224,665.1 1229,669.2 1235,674.1 1235.5,714.5" fill="url(#gdn)" clip-path="url(#below30)"/>
<polyline points="9,641.0 14,643.5 19,645.3 25,646.1 30,644.2 36,643.0 41,640.4 47,638.0 52,635.3 58,632.3 63,630.7 69,628.6 74,626.4 79,622.8 85,619.8 90,616.8 96,613.1 101,609.9 107,608.6 112,606.8 118,605.2 123,604.2 128,604.1 134,607.4 139,610.8 145,613.5 150,614.8 156,616.3 161,618.0 167,619.2 172,621.1 178,623.3 183,625.1 188,628.2 194,630.7 199,632.5 205,634.1 210,635.0 216,635.8 221,636.3 227,637.1 232,637.9 237,638.2 243,638.1 248,637.0 254,635.9 259,638.0 265,640.1 270,642.8 276,645.7 281,649.5 287,651.8 292,652.4 297,654.0 303,656.4 308,659.5 314,662.2 319,666.1 325,670.6 330,674.8 336,676.2 341,675.8 346,675.2 352,674.3 357,672.8 363,669.9 368,670.3 374,671.6 379,672.3 385,671.8 390,671.8 396,671.3 401,670.5 406,669.3 412,667.2 417,666.3 423,664.6 428,662.9 434,662.5 439,663.1 445,660.7 450,658.7 455,655.9 461,653.6 466,651.4 472,650.0 477,648.8 483,648.7 488,649.0 494,648.7 499,650.4 505,652.9 510,655.2 515,656.4 521,659.7 526,662.3 532,665.0 537,667.9 543,670.9 548,672.8 554,674.2 559,675.9 564,677.4 570,679.8 575,680.8 581,681.1 586,681.0 592,682.3 597,682.6 603,682.1 608,680.7 614,680.3 619,679.5 624,679.1 630,680.8 635,682.7 641,686.5 646,689.4 652,692.8 657,695.4 663,694.2 668,694.7 673,694.8 679,694.6 684,695.5 690,696.0 695,696.9 701,698.7 706,699.0 712,697.3 717,694.4 723,692.5 728,689.6 733,687.5 739,689.0 744,688.2 750,688.0 755,687.5 761,687.6 766,686.9 772,686.2 777,683.8 782,680.6 788,678.8 793,677.3 799,675.2 804,675.0 810,675.3 815,675.3 821,675.6 826,674.5 832,675.6 837,675.6 842,675.4 848,675.3 853,677.4 859,679.6 864,682.4 870,682.8 875,684.1 881,683.3 886,681.5 891,680.2 897,678.7 902,678.5 908,677.3 913,676.2 919,675.5 924,674.4 930,671.6 935,668.5 941,663.1 946,660.0 951,656.0 957,653.0 962,650.5 968,648.0 973,645.3 979,642.9 984,640.6 990,637.9 995,634.8 1000,632.7 1006,631.6 1011,631.1 1017,631.4 1022,631.6 1028,630.4 1033,629.4 1039,628.1 1044,626.8 1049,626.6 1055,625.6 1060,625.0 1066,624.9 1071,625.3 1077,625.1 1082,623.0 1088,621.8 1093,620.9 1099,619.4 1104,619.0 1109,620.9 1115,623.0 1120,624.2 1126,624.6 1131,625.7 1137,626.9 1142,629.5 1148,632.3 1153,634.7 1158,637.7 1164,640.0 1169,643.0 1175,646.9 1180,652.6 1186,654.7 1191,656.3 1197,658.2 1202,658.8 1208,659.0 1213,659.5 1218,660.1 1224,659.9 1229,660.3 1235,661.4" fill="none" stroke="#fdd835" stroke-width="1" stroke-linejoin="round" clip-path="url(#prsi)"/>
<polyline points="9,652.0 14,656.9 19,665.8 25,653.3 30,622.7 36,621.6 41,619.4 47,618.8 52,607.1 58,590.7 63,597.0 69,592.9 74,614.5 79,607.0 85,610.2 90,614.7 96,613.2 101,608.8 107,604.5 112,597.2 118,596.6 123,605.4 128,604.6 134,637.5 139,643.7 145,630.9 150,633.1 156,627.8 161,634.3 167,631.0 172,640.1 178,639.6 183,629.6 188,641.2 194,631.1 199,630.6 205,627.5 210,649.9 216,654.5 221,637.8 227,643.9 232,639.0 237,639.6 243,629.6 248,624.6 254,624.5 259,658.2 265,670.6 270,668.9 276,671.6 281,680.2 287,682.1 292,663.4 297,660.3 303,676.7 308,683.0 314,677.5 319,684.2 325,687.6 330,683.0 336,677.6 341,665.5 346,660.0 352,659.2 357,658.6 363,641.3 368,669.8 374,677.7 379,687.0 385,676.2 390,676.8 396,677.4 401,676.6 406,666.4 412,648.4 417,652.0 423,636.9 428,635.9 434,653.1 439,649.3 445,636.0 450,649.2 455,647.9 461,644.8 466,645.4 472,657.6 477,660.7 483,664.5 488,652.2 494,648.1 499,661.5 505,670.6 510,685.0 515,666.4 521,681.5 526,685.8 532,685.9 537,685.9 543,686.4 548,685.2 554,679.3 559,688.4 564,674.3 570,681.5 575,675.5 581,674.4 586,683.2 592,685.5 597,685.9 603,677.9 608,665.9 614,680.2 619,676.3 624,678.6 630,704.2 635,714.7 641,727.0 646,722.3 652,723.4 657,710.3 663,666.0 668,692.5 673,688.0 679,675.4 684,678.2 690,687.4 695,689.1 701,703.6 706,708.1 712,690.3 717,687.6 723,694.5 728,682.7 733,681.6 739,687.2 744,680.7 750,685.5 755,669.0 761,678.4 766,678.4 772,679.3 777,669.5 782,663.8 788,664.5 793,667.2 799,665.2 804,679.2 810,686.3 815,686.9 821,685.1 826,670.6 832,683.3 837,679.2 842,675.3 848,678.2 853,699.3 859,693.6 864,704.0 870,672.5 875,683.8 881,668.1 886,661.5 891,668.0 897,664.3 902,668.4 908,666.7 913,663.0 919,665.5 924,662.5 930,661.0 935,649.7 941,629.1 946,628.7 951,627.9 957,625.6 962,626.5 968,632.5 973,627.7 979,634.1 984,634.3 990,624.8 995,623.2 1000,632.9 1006,645.3 1011,642.8 1017,633.1 1022,631.8 1028,610.6 1033,612.6 1039,607.5 1044,614.4 1049,625.0 1055,620.0 1060,625.9 1066,624.2 1071,627.8 1077,630.3 1082,616.4 1088,625.2 1093,620.4 1099,611.3 1104,605.6 1109,638.8 1115,636.7 1120,631.8 1126,630.2 1131,634.8 1137,643.7 1142,659.2 1148,667.8 1153,664.1 1158,658.5 1164,657.3 1169,661.9 1175,666.4 1180,685.7 1186,667.2 1191,659.7 1197,658.7 1202,637.5 1208,638.3 1213,650.6 1218,667.7 1224,665.1 1229,669.2 1235,674.1" fill="none" stroke="#7e57c2" stroke-width="1" stroke-linejoin="round" clip-path="url(#prsi)"/>
<g class="ce"><rect x="11" y="405" width="1343" height="1" fill="#e0e3eb"/><rect x="11" y="573" width="1343" height="1" fill="#e0e3eb"/>
</g><rect x="10" y="27" width="1344" height="741.8" rx="1" fill="none" stroke="#f4f4f5" stroke-width="2"/>
<text y="45.8" font-size="12.4" fill="#131722" stroke="#131722" stroke-width="0.3"><tspan x="17.8" textLength="42.3" lengthAdjust="spacingAndGlyphs">BTCUSD</tspan> <tspan x="64.4" font-weight="bold">·</tspan> <tspan x="72.0" textLength="13.2" lengthAdjust="spacingAndGlyphs">1D</tspan> <tspan x="89.2" font-weight="bold">·</tspan> <tspan x="96.8" textLength="52.4" lengthAdjust="spacingAndGlyphs">BITSTAMP</tspan></text>
<text x="158.5" y="45.8" font-size="12.4" fill="#131722" stroke="#131722" stroke-width="0.3" textLength="7.5" lengthAdjust="spacingAndGlyphs">O</text>
<text x="168.3" y="45.8" font-size="12.4" fill="#ef5350" stroke="#ef5350" stroke-width="0.3" textLength="38.5" lengthAdjust="spacingAndGlyphs">105,475</text>
<text x="215.3" y="45.8" font-size="12.4" fill="#131722" stroke="#131722" stroke-width="0.3" textLength="7" lengthAdjust="spacingAndGlyphs">H</text>
<text x="223.6" y="45.8" font-size="12.4" fill="#ef5350" stroke="#ef5350" stroke-width="0.3" textLength="39.3" lengthAdjust="spacingAndGlyphs">106,163</text>
<text x="271.3" y="45.8" font-size="12.4" fill="#131722" stroke="#131722" stroke-width="0.3" textLength="5.8" lengthAdjust="spacingAndGlyphs">L</text>
<text x="277.3" y="45.8" font-size="12.4" fill="#ef5350" stroke="#ef5350" stroke-width="0.3" textLength="39.5" lengthAdjust="spacingAndGlyphs">104,532</text>
<text x="324.8" y="45.8" font-size="12.4" fill="#131722" stroke="#131722" stroke-width="0.3" textLength="7" lengthAdjust="spacingAndGlyphs">C</text>
<text x="332.3" y="45.8" font-size="12.4" fill="#ef5350" stroke="#ef5350" stroke-width="0.3" textLength="39.5" lengthAdjust="spacingAndGlyphs">104,666</text>
<text x="379.8" y="45.8" font-size="12.4" fill="#ef5350" stroke="#ef5350" stroke-width="0.3" textLength="70.7" lengthAdjust="spacingAndGlyphs">−798 (−0.76%)</text>
<text x="458.8" y="45.8" font-size="12.4" fill="#131722" stroke="#131722" stroke-width="0.3" textLength="16" lengthAdjust="spacingAndGlyphs">Vol</text>
<text x="475" y="45.8" font-size="12.4" fill="#ef5350" stroke="#ef5350" stroke-width="0.3" textLength="33.5" lengthAdjust="spacingAndGlyphs">436.42</text>
<text y="425" font-size="12.4" fill="#131722" stroke="#131722" stroke-width="0.3"><tspan x="17.6" textLength="31.2" lengthAdjust="spacingAndGlyphs">MACD</tspan> <tspan x="53.6" textLength="19.4" lengthAdjust="spacingAndGlyphs">(12,</tspan> <tspan x="76.6" textLength="16.3" lengthAdjust="spacingAndGlyphs">26,</tspan> <tspan x="96.4" textLength="34.0" lengthAdjust="spacingAndGlyphs">close)</tspan></text>
<text x="138.6" y="425" font-size="12.4" fill="#ff5252" stroke="#ff5252" stroke-width="0.3" textLength="23.5" lengthAdjust="spacingAndGlyphs">−418</text>
<text x="170" y="425" font-size="12.4" fill="#2962ff" stroke="#2962ff" stroke-width="0.3" textLength="17.5" lengthAdjust="spacingAndGlyphs">682</text>
<text x="197" y="425" font-size="12.4" fill="#ff6d00" stroke="#ff6d00" stroke-width="0.3" textLength="27" lengthAdjust="spacingAndGlyphs">1,100</text>
<text y="593.3" font-size="12.4" fill="#131722" stroke="#131722" stroke-width="0.3"><tspan x="18.0" textLength="16.0" lengthAdjust="spacingAndGlyphs">RSI</tspan> <tspan x="38.4" textLength="19.5" lengthAdjust="spacingAndGlyphs">(14,</tspan> <tspan x="61.5" textLength="33.6" lengthAdjust="spacingAndGlyphs">close)</tspan></text>
<text x="103" y="593.3" font-size="12.4" fill="#7e57c2" stroke="#7e57c2" stroke-width="0.3" textLength="27" lengthAdjust="spacingAndGlyphs">47.81</text>
<text x="139.4" y="593.3" font-size="12.4" fill="#fdd835" stroke="#fdd835" stroke-width="0.3" textLength="27.2" lengthAdjust="spacingAndGlyphs">53.29</text>
<text x="1301.0" y="47.9" font-size="12.4" fill="#131722" stroke="#131722" stroke-width="0.3" textLength="40.0" lengthAdjust="spacingAndGlyphs">115,000</text>
<text x="1301.0" y="82.0" font-size="12.4" fill="#131722" stroke="#131722" stroke-width="0.3" textLength="40.0" lengthAdjust="spacingAndGlyphs">110,000</text>
<text x="1301.0" y="184.3" font-size="12.4" fill="#131722" stroke="#131722" stroke-width="0.3" textLength="34.2" lengthAdjust="spacingAndGlyphs">95,000</text>
<text x="1301.0" y="218.4" font-size="12.4" fill="#131722" stroke="#131722" stroke-width="0.3" textLength="34.2" lengthAdjust="spacingAndGlyphs">90,000</text>
<text x="1301.0" y="252.5" font-size="12.4" fill="#131722" stroke="#131722" stroke-width="0.3" textLength="34.2" lengthAdjust="spacingAndGlyphs">85,000</text>
<text x="1301.0" y="286.6" font-size="12.4" fill="#131722" stroke="#131722" stroke-width="0.3" textLength="34.2" lengthAdjust="spacingAndGlyphs">80,000</text>
<text x="1301.0" y="320.7" font-size="12.4" fill="#131722" stroke="#131722" stroke-width="0.3" textLength="34.2" lengthAdjust="spacingAndGlyphs">75,000</text>
<text x="1301.0" y="354.8" font-size="12.4" fill="#131722" stroke="#131722" stroke-width="0.3" textLength="34.2" lengthAdjust="spacingAndGlyphs">70,000</text>
<text x="1301.0" y="388.9" font-size="12.4" fill="#131722" stroke="#131722" stroke-width="0.3" textLength="34.2" lengthAdjust="spacingAndGlyphs">65,000</text>
<text x="1301.0" y="420.1" font-size="12.4" fill="#131722" stroke="#131722" stroke-width="0.3" textLength="28.3" lengthAdjust="spacingAndGlyphs">7,500</text>
<text x="1301.0" y="452.0" font-size="12.4" fill="#131722" stroke="#131722" stroke-width="0.3" textLength="28.3" lengthAdjust="spacingAndGlyphs">5,000</text>
<text x="1301.0" y="484.0" font-size="12.4" fill="#131722" stroke="#131722" stroke-width="0.3" textLength="28.3" lengthAdjust="spacingAndGlyphs">2,500</text>
<text x="1301.0" y="548.6" font-size="12.4" fill="#131722" stroke="#131722" stroke-width="0.3" textLength="34.0" lengthAdjust="spacingAndGlyphs">−2,500</text>
<text x="1301.0" y="604.8" font-size="12.4" fill="#131722" stroke="#131722" stroke-width="0.3" textLength="28.5" lengthAdjust="spacingAndGlyphs">80.00</text>
<text x="1301.0" y="650.0" font-size="12.4" fill="#131722" stroke="#131722" stroke-width="0.3" textLength="28.5" lengthAdjust="spacingAndGlyphs">60.00</text>
<text x="1301.0" y="695.8" font-size="12.4" fill="#131722" stroke="#131722" stroke-width="0.3" textLength="28.5" lengthAdjust="spacingAndGlyphs">40.00</text>
<text x="1301.0" y="740.8" font-size="12.4" fill="#131722" stroke="#131722" stroke-width="0.3" textLength="28.5" lengthAdjust="spacingAndGlyphs">20.00</text>
<path d="M1293 54 H1344 Q1346 54 1346 56 V69 Q1346 71 1344 71 H1293 Z" fill="#2962ff"/>
<text x="1301.0" y="66.1" font-size="12.4" fill="#fff" stroke="#fff" stroke-width="0.3" textLength="40" lengthAdjust="spacingAndGlyphs">112,340</text>
<path d="M1293 139 H1344 Q1346 139 1346 141 V154 Q1346 156 1344 156 H1293 Z" fill="#2962ff"/>
<text x="1301.0" y="151.1" font-size="12.4" fill="#fff" stroke="#fff" stroke-width="0.3" textLength="40" lengthAdjust="spacingAndGlyphs">100,018</text>
<path d="M1293 107 H1348 Q1350 107 1350 109 V136 Q1350 138 1348 138 H1293 Z" fill="#ef5350"/>
<text x="1301.0" y="119.2" font-size="12.4" fill="#fff" stroke="#fff" stroke-width="0.3" textLength="40" lengthAdjust="spacingAndGlyphs">104,666</text>
<text x="1300.7" y="133.2" font-size="12.4" fill="rgba(255,255,255,0.8)" stroke="rgba(255,255,255,0.8)" stroke-width="0.3" textLength="44.8" lengthAdjust="spacingAndGlyphs">02:16:58</text>
<rect x="1242" y="107" width="50" height="17" rx="2" fill="#ef5350"/>
<text x="1246.3" y="119.7" font-size="12.4" fill="#fff" stroke="#fff" stroke-width="0.3" textLength="41.5" lengthAdjust="spacingAndGlyphs">BTCUSD</text>
<path d="M1293 477 H1332 Q1334 477 1334 479 V492 Q1334 494 1332 494 H1293 Z" fill="#ff6d00"/>
<text x="1301.0" y="489.2" font-size="12.4" fill="#fff" stroke="#fff" stroke-width="0.3" textLength="28" lengthAdjust="spacingAndGlyphs">1,100</text>
<path d="M1293 494 H1322 Q1324 494 1324 496 V509 Q1324 511 1322 511 H1293 Z" fill="#2962ff"/>
<text x="1301.0" y="506.4" font-size="12.4" fill="#fff" stroke="#fff" stroke-width="0.3" textLength="17.8" lengthAdjust="spacingAndGlyphs">682</text>
<path d="M1293 511 H1328 Q1330 511 1330 513 V526 Q1330 528 1328 528 H1293 Z" fill="#ff5252"/>
<text x="1301.0" y="523.5" font-size="12.4" fill="#fff" stroke="#fff" stroke-width="0.3" textLength="24" lengthAdjust="spacingAndGlyphs">−418</text>
<path d="M1293 649 H1332 Q1334 649 1334 651 V664 Q1334 666 1332 666 H1293 Z" fill="#fdd835"/>
<text x="1301.0" y="661.7" font-size="12.4" fill="#131722" stroke="#131722" stroke-width="0.3" textLength="28.3" lengthAdjust="spacingAndGlyphs">53.29</text>
<path d="M1293 666 H1332 Q1334 666 1334 668 V681 Q1334 683 1332 683 H1293 Z" fill="#7e57c2"/>
<text x="1301.0" y="678.7" font-size="12.4" fill="#fff" stroke="#fff" stroke-width="0.3" textLength="28.3" lengthAdjust="spacingAndGlyphs">47.81</text>
<text x="166.5" y="759.2" font-size="12.4" fill="#131722" stroke="#131722" stroke-width="0.3" text-anchor="middle" textLength="20" lengthAdjust="spacingAndGlyphs">Dec</text>
<text x="335.5" y="759.2" font-size="12.4" fill="#131722" stroke="#131722" stroke-width="0.3" text-anchor="middle" font-weight="bold" textLength="27" lengthAdjust="spacingAndGlyphs">2025</text>
<text x="504.7" y="759.2" font-size="12.4" fill="#131722" stroke="#131722" stroke-width="0.3" text-anchor="middle" textLength="19.5" lengthAdjust="spacingAndGlyphs">Feb</text>
<text x="656.6" y="759.2" font-size="12.4" fill="#131722" stroke="#131722" stroke-width="0.3" text-anchor="middle" textLength="21" lengthAdjust="spacingAndGlyphs">Mar</text>
<text x="826" y="759.2" font-size="12.4" fill="#131722" stroke="#131722" stroke-width="0.3" text-anchor="middle" textLength="20" lengthAdjust="spacingAndGlyphs">Apr</text>
<text x="990" y="759.2" font-size="12.4" fill="#131722" stroke="#131722" stroke-width="0.3" text-anchor="middle" textLength="23" lengthAdjust="spacingAndGlyphs">May</text>
<text x="1158" y="759.2" font-size="12.4" fill="#131722" stroke="#131722" stroke-width="0.3" text-anchor="middle" textLength="19.5" lengthAdjust="spacingAndGlyphs">Jun</text>
<g>
<circle cx="1235.5" cy="392.2" r="9.7" fill="#fff" stroke="#9c27b0" stroke-width="1.1"/>
<path d="M1236.5 386.5 L1231.5 392.8 L1235 392.8 L1232.5 398 L1238.5 390.8 L1235 390.8 Z" fill="#9c27b0"/>
<circle cx="1224.9" cy="395.9" r="6" fill="#fff"/>
<path d="M1224.9 391 Q1225.6 395.2 1229.8 395.9 Q1225.6 396.6 1224.9 400.8 Q1224.2 396.6 1220 395.9 Q1224.2 395.2 1224.9 391 Z" fill="#7c4dff" stroke="#7c4dff" stroke-width="0.4" stroke-linejoin="round"/>
</g>
<g transform="translate(1251.6 392)"><circle r="10" fill="#fff" stroke="#f23645" stroke-width="1.4"/>
<g clip-path="url(#flag)"><rect x="-8" y="-8" width="16" height="16" fill="#fff"/>
<rect x="-8" y="-8" width="16" height="2.6" fill="#ef5350"/><rect x="-8" y="-2.2" width="16" height="3.9" fill="#ef5350"/><rect x="-8" y="4" width="16" height="4" fill="#ef5350"/>
<rect x="-8" y="-8" width="6" height="9.7" fill="#1e88e5"/>
<g fill="#fff"><circle cx="-5.4" cy="-5.6" r="0.6"/><circle cx="-2.8" cy="-5.6" r="0.6"/><circle cx="-0.2" cy="-5.6" r="0.6"/><circle cx="-5.4" cy="-3" r="0.6"/><circle cx="-2.8" cy="-3" r="0.6"/><circle cx="-0.2" cy="-3" r="0.6"/><circle cx="-5.4" cy="-0.4" r="0.6"/><circle cx="-2.8" cy="-0.4" r="0.6"/><circle cx="-0.2" cy="-0.4" r="0.6"/></g>
</g></g>
<g transform="translate(1245.4 392)"><circle r="10" fill="#fff" stroke="#f23645" stroke-width="1.4"/>
<g clip-path="url(#flag)"><rect x="-8" y="-8" width="16" height="16" fill="#fff"/>
<rect x="-8" y="-8" width="16" height="2.6" fill="#ef5350"/><rect x="-8" y="-2.2" width="16" height="3.9" fill="#ef5350"/><rect x="-8" y="4" width="16" height="4" fill="#ef5350"/>
<rect x="-8" y="-8" width="10.4" height="9.7" fill="#1e88e5"/>
<g fill="#fff"><circle cx="-5.4" cy="-5.6" r="0.6"/><circle cx="-2.8" cy="-5.6" r="0.6"/><circle cx="-0.2" cy="-5.6" r="0.6"/><circle cx="-5.4" cy="-3" r="0.6"/><circle cx="-2.8" cy="-3" r="0.6"/><circle cx="-0.2" cy="-3" r="0.6"/><circle cx="-5.4" cy="-0.4" r="0.6"/><circle cx="-2.8" cy="-0.4" r="0.6"/><circle cx="-0.2" cy="-0.4" r="0.6"/></g>
</g></g>
<path d="M10.1 781.1 H17.9 V790.7 H14.05 V784.65 H10.1 Z M25.05 781.1 H28.87 L25.35 790.7 H21.1 Z" fill="#131722"/><circle cx="20.96" cy="783.04" r="1.9" fill="#131722"/>
<text x="33.2" y="790.6" font-size="13.4" fill="#131722" stroke="#131722" stroke-width="0.25" textLength="72" lengthAdjust="spacingAndGlyphs">TradingView</text>
</svg></body></html>
